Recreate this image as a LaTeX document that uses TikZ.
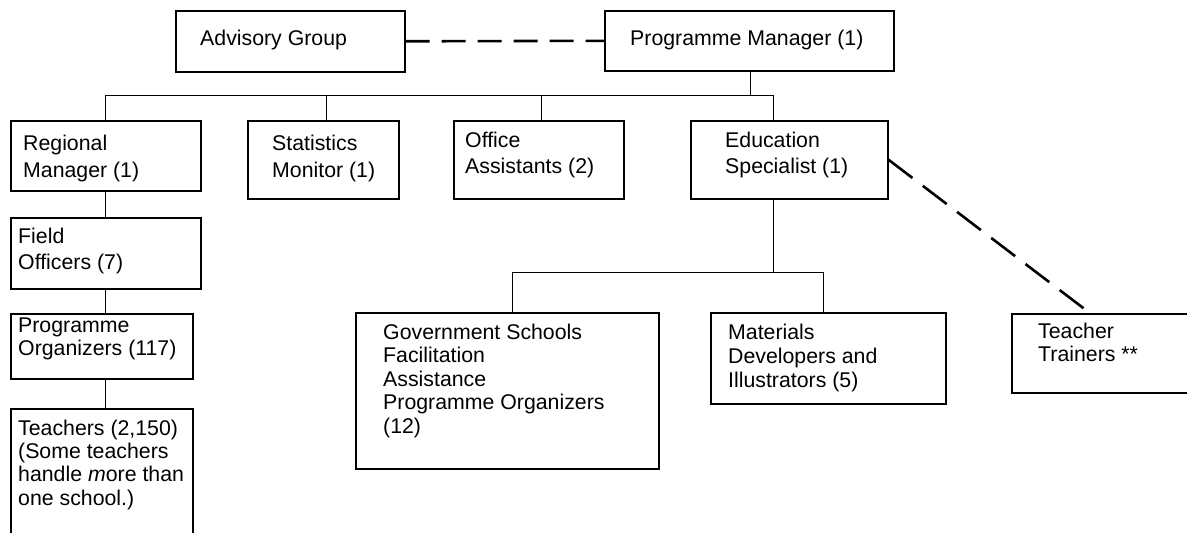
\documentclass[tikz,border=0pt]{standalone}
\usepackage{fontspec}
\setmainfont{Liberation Sans}
\usetikzlibrary{calc}
\begin{document}
\begin{tikzpicture}[x=1pt,y=-1pt,
  box/.style={draw, line width=1.6pt, inner sep=0pt, anchor=north west, rectangle},
  txt/.style={inner sep=0pt, align=left, anchor=north west, font=\fontsize{21.3}{#1}\selectfont},
  conn/.style={line width=1pt},
  dashconn/.style={line width=2.6pt, dash pattern=on 24pt off 12pt}]
\useasboundingbox (0,0) rectangle (1187,533);
% top row
\node[box, minimum width=229pt, minimum height=61pt,
  label={[txt=27, xshift=25pt, yshift=-16.8pt]north west:{\strut Advisory Group}}] (adv) at (175,10) {};
\node[box, minimum width=289pt, minimum height=60pt,
  label={[txt=27, xshift=26pt, yshift=-16.1pt]north west:{\strut Programme Manager (1)}}] (pm) at (604,10) {};
% second row
\node[box, minimum width=190pt, minimum height=70pt,
  label={[txt=27, xshift=13pt, yshift=-11.1pt]north west:{\strut Regional\\Manager (1)}}] (reg) at (10,120) {};
\node[box, minimum width=151pt, minimum height=78pt,
  label={[txt=27, xshift=25pt, yshift=-11.1pt]north west:{\strut Statistics\\Monitor (1)}}] (stat) at (247,120) {};
\node[box, minimum width=170pt, minimum height=78pt,
  label={[txt=26, xshift=12pt, yshift=-9.5pt]north west:{\strut Office\\Assistants (2)}}] (off) at (453,120) {};
\node[box, minimum width=197pt, minimum height=78pt,
  label={[txt=26, xshift=35pt, yshift=-9.5pt]north west:{\strut Education\\Specialist (1)}}] (edu) at (690,120) {};
% left column
\node[box, minimum width=190pt, minimum height=71pt,
  label={[txt=26, xshift=8pt, yshift=-7.8pt]north west:{\strut Field\\Officers (7)}}] (field) at (10,217) {};
\node[box, minimum width=182pt, minimum height=65pt,
  label={[txt=23, xshift=8pt, yshift=-2.9pt]north west:{\strut Programme\\Organizers (117)}}] (prog) at (10,313) {};
\node[box, minimum width=182pt, minimum height=145pt,
  label={[txt=23.3, xshift=8pt, yshift=-10.7pt]north west:{\strut Teachers (2,150)\\(Some teachers\\handle \emph{m}ore than\\one school.)}}] (teach) at (10,408) {};
% lower row
\node[box, minimum width=303pt, minimum height=156pt,
  label={[txt=23.5, xshift=28pt, yshift=-10.5pt]north west:{\strut Government Schools\\Facilitation\\Assistance\\Programme Organizers\\(12)}}] (gov) at (355,312) {};
\node[box, minimum width=235pt, minimum height=91pt,
  label={[txt=24, xshift=18pt, yshift=-10.2pt]north west:{\strut Materials\\Developers and\\Illustrators (5)}}] (mat) at (710,312) {};
\node[box, minimum width=190pt, minimum height=79pt,
  label={[txt=22, xshift=27pt, yshift=-9.6pt]north west:{\strut Teacher\\Trainers **}}] (tt) at (1011,313) {};
% helper coordinates
\coordinate (bus) at (0,95);
\coordinate (sub) at (0,272);
\coordinate (pmDown) at ([xshift=1.5pt]pm.south);
\coordinate (statTop) at ([xshift=3.5pt]stat.north);
\coordinate (offTop) at ([xshift=3pt]off.north);
\coordinate (eduTop) at ([xshift=-15.5pt]edu.north);
\coordinate (eduBot) at ([xshift=-15.5pt]edu.south);
\coordinate (govTop) at ([xshift=5.5pt]gov.north);
\coordinate (matTop) at ([xshift=-4.5pt]mat.north);
\coordinate (ttTop) at ([xshift=-17pt]tt.north);
% connectors
\draw[dashconn] (adv.east) -- (pm.west);
\draw[conn] (pmDown) -- (pmDown |- bus);
\draw[conn] (reg.north) -- (reg.north |- bus) -| (eduTop);
\draw[conn] (statTop) -- (statTop |- bus);
\draw[conn] (offTop) -- (offTop |- bus);
\draw[conn] (reg.south) -- (field.north);
\draw[conn] (field.south) -- (field.south |- prog.north);
\draw[conn] (field.south |- prog.south) -- (field.south |- teach.north);
\draw[conn] (eduBot) -- (eduBot |- sub);
\draw[conn] (govTop) |- (matTop |- sub) -- (matTop);
\draw[line width=2.6pt, dash pattern=on 30pt off 13pt] (edu.east) -- (ttTop);
\end{tikzpicture}
\end{document}
